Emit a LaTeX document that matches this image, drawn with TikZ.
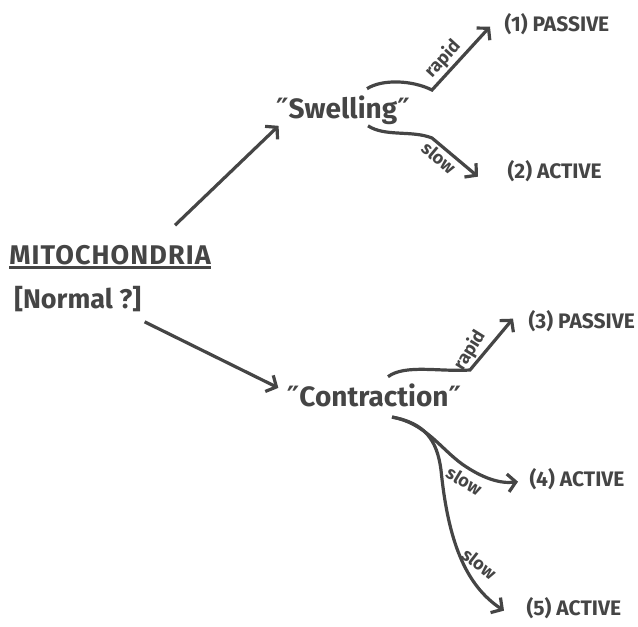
\documentclass[tikz,border=0pt]{standalone}
\usepackage{fontspec}
\setmainfont{Fira Sans}
\newfontfamily\quotefont{DejaVu Sans}
\usetikzlibrary{arrows.meta}
\usetikzlibrary{positioning}
\definecolor{ink}{HTML}{454545}
\newcommand{\thickunder}[1]{{\setbox0\hbox{#1}\rlap{\rule[-4.5pt]{\wd0}{2.4pt}}\box0}}
\newcommand{\dq}{{\quotefont\bfseries ″}}
\tikzset{->, > = {Straight Barb[length = 8pt, width = 18pt]},
  head/.style = {inner sep = 2pt, font = \fontsize{27}{30}\selectfont\bfseries},
  phase/.style = {inner sep = 2pt, font = \fontsize{28}{32}\selectfont\bfseries},
  result/.style = {inner sep = 2pt, anchor = base west, font = \fontsize{21}{24}\selectfont\bfseries},
  speed/.style = {inner sep = 2pt, font = \fontsize{18}{19}\selectfont\bfseries}}

\begin{document}
\begin{tikzpicture}[x = 1pt, y = -1pt, line width = 3.2pt, color = ink]
    \useasboundingbox (0,0) rectangle (638,627);
    \node [head, anchor = base] (mito) at (110,264) {\thickunder{\addfontfeature{LetterSpace = 4}MITOCHONDRIA}};
    \node [head, below right = 11pt and 5pt of mito.south west] (normal) {[Normal ?]};
    \node [phase, anchor = base] (swell) at (343,118) {\dq Swelling\dq};
    \node [phase, anchor = base] (contr) at (374,406) {\dq Contraction\dq};
    \node [result] (p1) at (501,31) {(1) PASSIVE};
    \node [result] (a2) at (504,178) {(2) ACTIVE};
    \node [result] (p3) at (525,328) {(3) PASSIVE};
    \node [result] (a4) at (526,486) {(4) ACTIVE};
    \node [result] (a5) at (523,615) {(5) ACTIVE};
    % main branches
    \draw ([shift = {(65pt,16pt)}]mito.north) -- ([shift = {(6pt,2pt)}]swell.south west);
    \draw ([shift = {(0pt,-6pt)}]normal.south east) -- ([shift = {(-5pt,7pt)}]contr.west);
    % swelling
    \draw ([shift = {(24pt,3pt)}]swell.north) .. controls (382,79) and (412,80) .. (432,90)
      -- ([shift = {(-11pt,-3pt)}]p1.west) node [speed, sloped, above, pos = .35] (r1) {rapid};
    \draw ([shift = {(25pt,2pt)}]swell.south) .. controls (385,137) and (412,130) .. (432,138)
      -- ([shift = {(-26pt,-6pt)}]a2.west) node [speed, sloped, below, pos = .3] (s2) {slow};
    % contraction
    \draw ([shift = {(14pt,3pt)}]contr.north) .. controls (405,364) and (440,372) .. (470,370)
      -- ([shift = {(-12pt,2pt)}]p3.west) node [speed, sloped, above, rotate = 8, pos = .25] (r3) {rapid};
    \draw ([shift = {(18pt,-7pt)}]contr.south) .. controls (425,423) and (440,448) .. (462,464)
      .. controls (482,478) and (500,484) .. ([shift = {(-8pt,-3pt)}]a4.west)
      node [speed, sloped, below = 2pt, pos = .15] (s4) {slow};
    \draw ([shift = {(18pt,-7pt)}]contr.south) .. controls (425,423) and (437,440) .. (441,470)
      .. controls (448,540) and (465,585) .. ([shift = {(-19pt,-3pt)}]a5.west)
      node [speed, rotate = -38, right = 4pt, pos = .45] (s5) {slow};
  \end{tikzpicture}
\end{document}
